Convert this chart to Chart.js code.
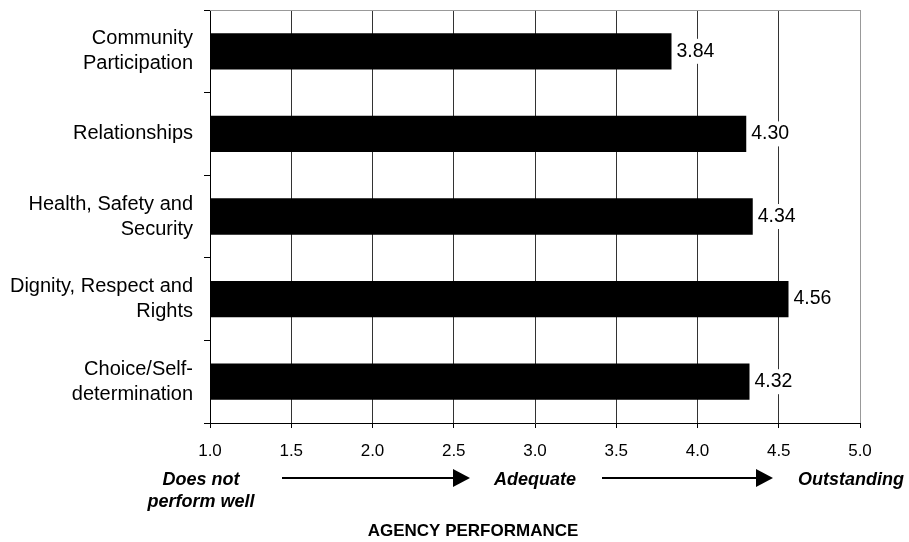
<!DOCTYPE html>
<html>
<head>
<meta charset="utf-8">
<script src="https://cdn.jsdelivr.net/npm/chart.js@4.4.1/dist/chart.umd.min.js"></script>
<style>
  html, body { margin: 0; padding: 0; background: #fff; }
  #wrap { width: 909px; height: 542px; }
  canvas { display: block; }
</style>
</head>
<body>
<div id="wrap"><canvas id="chart" width="909" height="542"></canvas></div>
<script>
// Outcome areas (top to bottom) and their mean agency performance scores
const categories = [
  ['Community', 'Participation'],
  'Relationships',
  ['Health, Safety and', 'Security'],
  ['Dignity, Respect and', 'Rights'],
  ['Choice/Self-', 'determination']
];
const scores = [3.84, 4.30, 4.34, 4.56, 4.32];

// Rating scale ticks
const xTickValues = [1.0, 1.5, 2.0, 2.5, 3.0, 3.5, 4.0, 4.5, 5.0];

// Verbal anchors under the scale
const anchorTexts = [['Does not', 'perform well'], ['Adequate'], ['Outstanding']];
const axisTitle = 'AGENCY PERFORMANCE';

const FONT = '"Liberation Sans", Arial, Helvetica, sans-serif';
Chart.defaults.font.family = FONT;
Chart.defaults.color = '#000';

// Value labels at the end of each bar, on a white patch over the gridlines
const valueLabels = {
  id: 'valueLabels',
  afterDatasetsDraw(chart) {
    const ctx = chart.ctx;
    const meta = chart.getDatasetMeta(0);
    const data = chart.data.datasets[0].data;
    ctx.save();
    ctx.font = '19.5px ' + FONT;
    ctx.textAlign = 'left';
    ctx.textBaseline = 'middle';
    meta.data.forEach((bar, i) => {
      const text = data[i].toFixed(2);
      const w = ctx.measureText(text).width;
      ctx.fillStyle = '#fff';
      ctx.fillRect(bar.x + 1, bar.y - 12.5, w + 8, 25);
      ctx.fillStyle = '#000';
      ctx.fillText(text, bar.x + 5, bar.y);
    });
    ctx.restore();
  }
};

// Top frame line of the plot area
const frame = {
  id: 'frame',
  beforeDatasetsDraw(chart) {
    const { ctx, chartArea: a } = chart;
    ctx.save();
    ctx.strokeStyle = '#999';
    ctx.lineWidth = 1;
    ctx.beginPath();
    ctx.moveTo(a.left, a.top + 0.5);
    ctx.lineTo(a.right + 0.5, a.top + 0.5);
    ctx.stroke();
    ctx.restore();
  }
};

// Verbal scale anchors, arrows and the axis title
const scaleLegend = {
  id: 'scaleLegend',
  afterDraw(chart) {
    const ctx = chart.ctx;
    const anchorX = [201, 535, 851];
    ctx.save();
    ctx.fillStyle = '#000';
    ctx.textAlign = 'center';
    ctx.textBaseline = 'middle';
    ctx.font = 'italic bold 18px ' + FONT;
    anchorTexts.forEach((lines, i) => {
      lines.forEach((line, j) => ctx.fillText(line, anchorX[i], 480 + j * 22));
    });

    const arrow = (x0, x1, y) => {
      ctx.strokeStyle = '#000';
      ctx.lineWidth = 2;
      ctx.beginPath();
      ctx.moveTo(x0, y);
      ctx.lineTo(x1 - 14, y);
      ctx.stroke();
      ctx.beginPath();
      ctx.moveTo(x1, y);
      ctx.lineTo(x1 - 17, y - 9);
      ctx.lineTo(x1 - 17, y + 9);
      ctx.closePath();
      ctx.fill();
    };
    arrow(282, 470, 478);
    arrow(602, 773, 478);

    ctx.font = 'bold 17px ' + FONT;
    ctx.fillText(axisTitle, 473, 531);
    ctx.restore();
  }
};

new Chart(document.getElementById('chart'), {
  type: 'bar',
  data: {
    labels: categories,
    datasets: [{
      data: scores,
      backgroundColor: '#000',
      borderWidth: 0,
      categoryPercentage: 1,
      barPercentage: 0.44
    }]
  },
  options: {
    indexAxis: 'y',
    responsive: false,
    animation: false,
    events: [],
    layout: { padding: { top: 10, right: 49, left: 0, bottom: 0 } },
    plugins: {
      legend: { display: false },
      tooltip: { enabled: false },
      title: { display: false }
    },
    scales: {
      x: {
        type: 'linear',
        min: 1,
        max: 5,
        beginAtZero: false,
        afterBuildTicks(axis) {
          axis.ticks = xTickValues.map(v => ({ value: v }));
        },
        afterFit(axis) {
          axis.height = 119;
          axis.paddingLeft = 0;
          axis.paddingRight = 0;
        },
        ticks: {
          callback: v => Number(v).toFixed(1),
          font: { size: 17 },
          color: '#000',
          padding: 13,
          maxRotation: 0,
          autoSkip: false
        },
        grid: {
          color: c => (c.tick && c.tick.value === 5 ? '#999' : '#333'),
          lineWidth: 1,
          tickColor: '#000',
          tickLength: 5,
          drawTicks: true
        },
        border: { display: true, color: '#000', width: 1 }
      },
      y: {
        type: 'category',
        afterFit(axis) {
          axis.width = 210;
          axis.paddingTop = 0;
          axis.paddingBottom = 0;
        },
        ticks: {
          font: { size: 20, lineHeight: 1.25 },
          color: '#000',
          padding: 11,
          autoSkip: false
        },
        grid: {
          offset: true,
          drawOnChartArea: false,
          drawTicks: true,
          tickLength: 6,
          color: '#000',
          tickColor: '#000'
        },
        border: { display: true, color: '#000', width: 1 }
      }
    }
  },
  plugins: [frame, valueLabels, scaleLegend]
});
</script>
</body>
</html>
